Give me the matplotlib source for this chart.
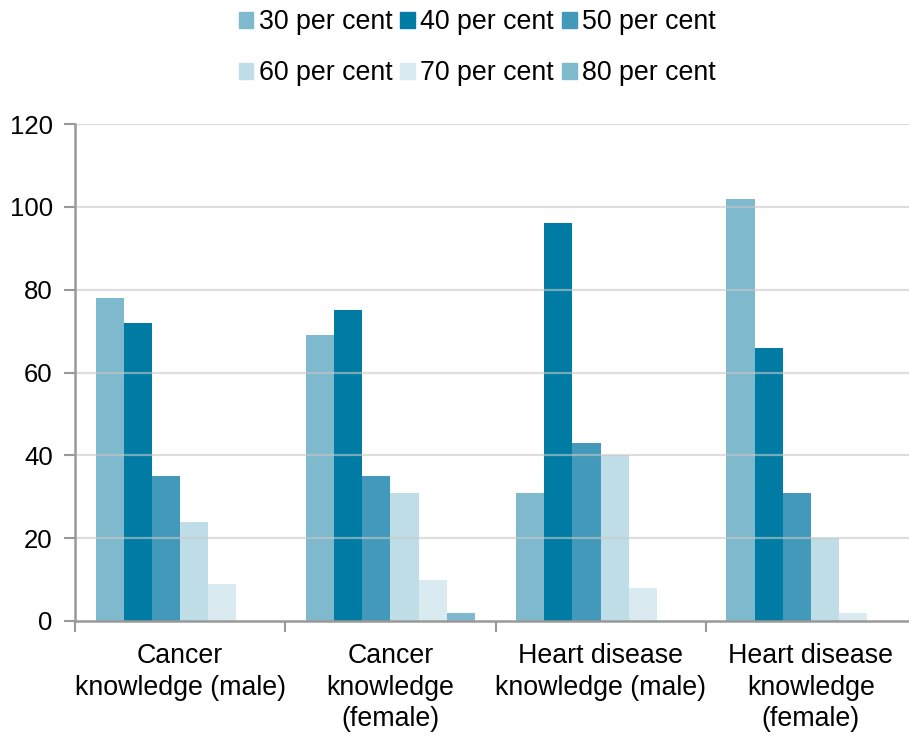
import matplotlib.pyplot as plt
import numpy as np
from matplotlib.patches import Patch

plt.rcParams["font.family"] = ["Liberation Sans", "DejaVu Sans"]

# ── data ──────────────────────────────────────────────────────────────────────
categories = [
    "Cancer\nknowledge (male)",
    "Cancer\nknowledge\n(female)",
    "Heart disease\nknowledge (male)",
    "Heart disease\nknowledge\n(female)",
]
series_labels = ["30 per cent", "40 per cent", "50 per cent",
                 "60 per cent", "70 per cent", "80 per cent"]
pct30 = [78, 69, 31, 102]
pct40 = [72, 75, 96, 66]
pct50 = [35, 35, 43, 31]
pct60 = [24, 31, 40, 20]
pct70 = [9, 10, 8, 2]
pct80 = [0, 2, 0, 0]
y_ticks = [0, 20, 40, 60, 80, 100, 120]

# ── colours ───────────────────────────────────────────────────────────────────
COLORS = ["#7FB9CE", "#007BA3", "#4299B9", "#BFDDE7", "#DAEAF1", "#7FB9CE"]
C_AXIS = "#999999"
C_GRID = "#C8C8C8"
FS = 19.3

series = [pct30, pct40, pct50, pct60, pct70, pct80]

fig = plt.figure(figsize=(9.09, 7.36), dpi=100)
ax = fig.add_axes([75 / 909, 1 - 621 / 736, 841 / 909, 497 / 736])

x = np.arange(len(categories))
w = 0.134
offsets = (np.arange(len(series)) - (len(series) - 1) / 2) * w
for vals, off, col in zip(series, offsets, COLORS):
    ax.bar(x + off, vals, width=w, color=col, zorder=2, linewidth=0)

ax.set_xlim(-0.5, len(categories) - 0.5)
ax.set_ylim(0, 120)
ax.set_yticks(y_ticks)
ax.tick_params(axis="y", labelsize=18.5, length=8, width=1.5, color=C_AXIS, pad=8)

# category labels centred, tick marks at group boundaries
ax.set_xticks(x)
ax.set_xticklabels(categories, fontsize=FS, linespacing=1.27)
ax.tick_params(axis="x", length=0, pad=16)
ax.set_xticks(np.arange(-0.5, len(categories)), minor=True)
ax.tick_params(axis="x", which="minor", length=8, width=1.5, color=C_AXIS)

# gridlines sit over the bars
for yv in y_ticks[1:]:
    ax.axhline(yv, color=C_GRID, lw=1.6, alpha=0.6, zorder=3)

for side in ("top", "right"):
    ax.spines[side].set_visible(False)
for side in ("left", "bottom"):
    ax.spines[side].set_color(C_AXIS)
    ax.spines[side].set_linewidth(1.8)
    ax.spines[side].set_zorder(4)

# legend, filled row by row
handles = [Patch(color=c, label=l) for c, l in zip(COLORS, series_labels)]
order = [0, 3, 1, 4, 2, 5]
fig.legend([handles[i] for i in order], [series_labels[i] for i in order],
           loc="upper center", bbox_to_anchor=(0.525, 1.02), ncol=3,
           frameon=False, fontsize=FS, handlelength=0.55, handleheight=0.55,
           handletextpad=0.2, columnspacing=0.3, labelspacing=0.92)

fig.savefig("out.png", dpi=100)
